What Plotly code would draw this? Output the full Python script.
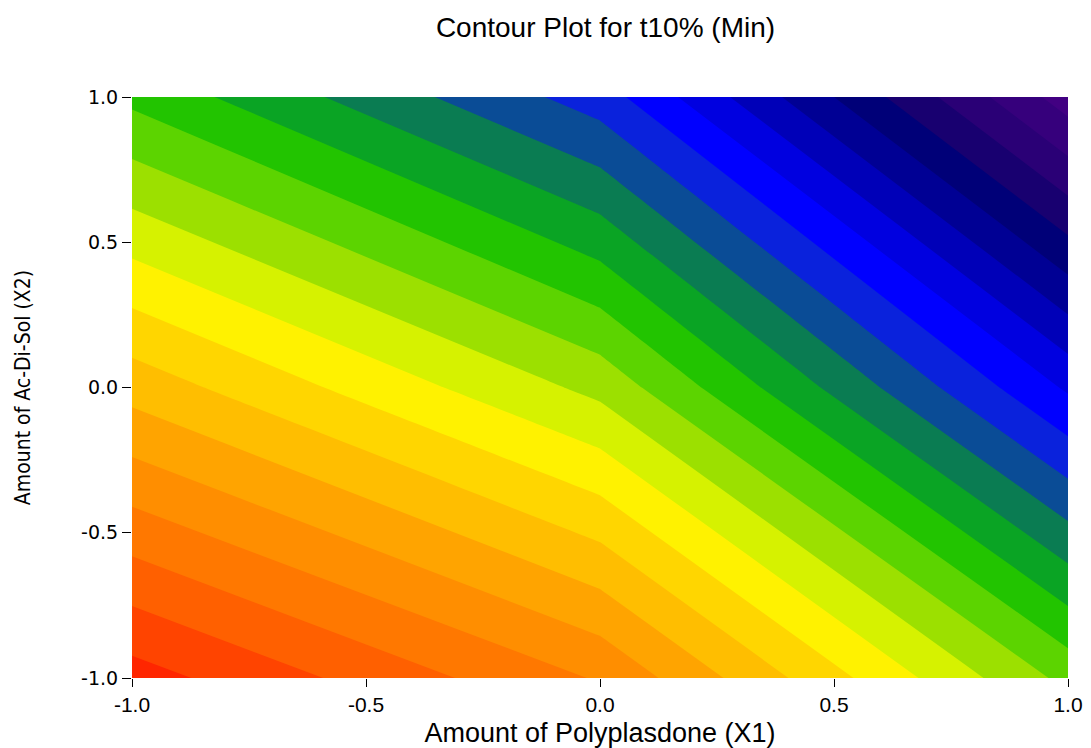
import plotly.graph_objects as go

# Coded factor levels
x1_levels = [-1.0, 0.0, 1.0]   # Amount of Polyplasdone (X1)
x2_levels = [-1.0, 0.0, 1.0]   # Amount of Ac-Di-Sol (X2)

# Response t10% (contour-level units), rows = X2 levels
t10_row_x2_m1 = [25.45, 21.9, 14.7]
t10_row_x2_0 = [19.6, 15.7, 7.85]
t10_row_x2_p1 = [13.75, 9.5, 0.5]

tick_vals = [-1.0, -0.5, 0.0, 0.5, 1.0]
tick_text = ["-1.0", "-0.5", "0.0", "0.5", "1.0"]

# Band colours, lowest band first
band_colors = [
    "#420082", "#36007c", "#2a0076", "#180070", "#000078", "#000094",
    "#0000b8", "#0000e0", "#0000ff", "#0a22dc", "#0a4c96", "#0a7c52",
    "#0aa424", "#22c400", "#5cd400", "#9ce000", "#d6f200", "#fff200",
    "#ffd600", "#ffbe00", "#ffa400", "#ff8e00", "#ff7800", "#ff6000",
    "#ff4400", "#ff2600", "#ff0000",
]

n = len(band_colors) - 1
colorscale = [[i / n, c] for i, c in enumerate(band_colors)]

z = [t10_row_x2_m1, t10_row_x2_0, t10_row_x2_p1]

fig = go.Figure(
    go.Contour(
        x=x1_levels,
        y=x2_levels,
        z=z,
        colorscale=colorscale,
        contours=dict(start=1, end=n, size=1, coloring="fill"),
        line=dict(width=0, smoothing=0),
        showscale=False,
        hoverinfo="skip",
    )
)

fig.update_layout(
    width=1091,
    height=748,
    margin=dict(l=132, r=23, t=97, b=70, autoexpand=False),
    paper_bgcolor="white",
    plot_bgcolor="white",
    title=dict(
        text="Contour Plot for t10% (Min)",
        x=0.555,
        xref="container",
        xanchor="center",
        y=1 - 27 / 748,
        yref="container",
        yanchor="middle",
        font=dict(family="Liberation Sans, Arial, sans-serif", size=28, color="black"),
    ),
    xaxis=dict(
        range=[-1, 1],
        automargin=False,
        tickvals=tick_vals,
        ticktext=tick_text,
        ticks="outside",
        ticklen=8,
        tickcolor="black",
        showgrid=False,
        zeroline=False,
        showline=False,
        tickfont=dict(family="Liberation Sans, Arial, sans-serif", size=21, color="black"),
        title=dict(
            text="Amount of Polyplasdone (X1)",
            font=dict(family="Liberation Sans, Arial, sans-serif", size=27, color="black"),
            standoff=16,
        ),
    ),
    yaxis=dict(
        range=[-1, 1],
        automargin=False,
        tickvals=tick_vals,
        ticktext=tick_text,
        ticks="outside",
        ticklen=9,
        tickcolor="black",
        showgrid=False,
        zeroline=False,
        showline=False,
        tickfont=dict(family="DejaVu Sans, sans-serif", size=19, color="black"),
        title=dict(
            text="Amount of Ac-Di-Sol (X2)",
            font=dict(family="Liberation Sans Narrow, DejaVu Sans Condensed, Arial Narrow, sans-serif", size=21, color="black"),
            standoff=44,
        ),
    ),
)

fig.write_html("out.html")
